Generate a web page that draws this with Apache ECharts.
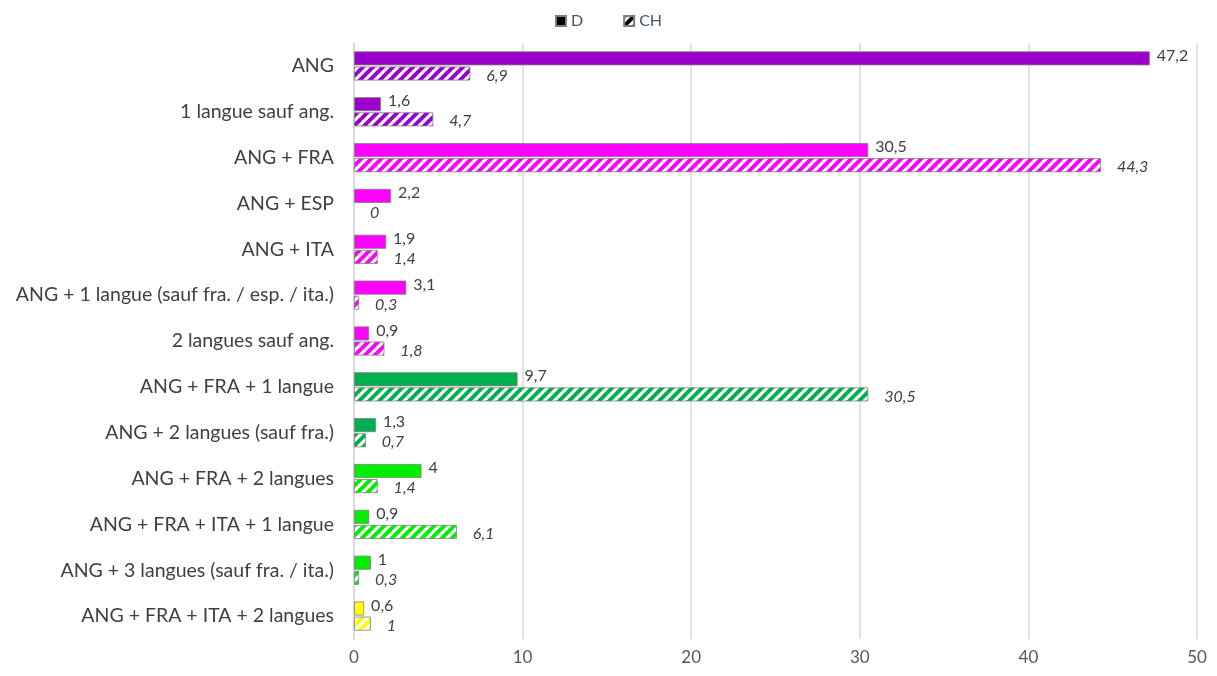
<!DOCTYPE html>
<html>
<head>
<meta charset="utf-8">
<script src="https://cdn.jsdelivr.net/npm/echarts@6/dist/echarts.min.js"></script>
<style>
  html, body { margin: 0; padding: 0; background: #fff; }
  #chart { width: 1217px; height: 676px; }
</style>
</head>
<body>
<div id="chart"></div>
<script>
// categories, top to bottom
var categories = [
    'ANG',
    '1 langue sauf ang.',
    'ANG + FRA',
    'ANG + ESP',
    'ANG + ITA',
    'ANG + 1 langue (sauf fra. / esp. / ita.)',
    '2 langues sauf ang.',
    'ANG + FRA + 1 langue',
    'ANG + 2 langues (sauf fra.)',
    'ANG + FRA + 2 langues',
    'ANG + FRA + ITA + 1 langue',
    'ANG + 3 langues (sauf fra. / ita.)',
    'ANG + FRA + ITA + 2 langues'
];
var valuesD = [47.2, 1.6, 30.5, 2.2, 1.9, 3.1, 0.9, 9.7, 1.3, 4, 0.9, 1, 0.6];
var valuesCH = [6.9, 4.7, 44.3, 0, 1.4, 0.3, 1.8, 30.5, 0.7, 1.4, 6.1, 0.3, 1];
var groupColors = ['#9900CC', '#9900CC', '#FF00FF', '#FF00FF', '#FF00FF', '#FF00FF', '#FF00FF',
    '#00B050', '#00B050', '#00EE00', '#00EE00', '#00EE00', '#FFFF00'];
var xTicks = [0, 10, 20, 30, 40, 50];

var font = 'Lato, "Open Sans", sans-serif';

// diagonal hatch "/" on white
function hatch(color) {
    var s = 10;
    var c = document.createElement('canvas');
    c.width = s; c.height = s;
    var ctx = c.getContext('2d');
    ctx.fillStyle = '#fff';
    ctx.fillRect(0, 0, s, s);
    ctx.strokeStyle = color;
    ctx.lineWidth = 4;
    for (var k = -1; k <= 1; k++) {
        ctx.beginPath();
        ctx.moveTo(k * s - 1, s + 1);
        ctx.lineTo(k * s + s + 1, -1);
        ctx.stroke();
    }
    return { image: c, repeat: 'repeat' };
}

function fmt(p) {
    return String(p.value).replace('.', ',');
}

var chart = echarts.init(document.getElementById('chart'));
chart.setOption({
    animation: false,
    textStyle: { fontFamily: font },
    legend: {
        top: 8,
        left: 'center',
        icon: 'rect',
        itemWidth: 10,
        itemHeight: 10,
        itemGap: 40,
        textStyle: { fontSize: 16, color: '#44546A', fontFamily: font },
        data: ['D', 'CH']
    },
    grid: { left: 354, right: 20, top: 43, bottom: 37 },
    xAxis: {
        type: 'value',
        min: xTicks[0],
        max: xTicks[xTicks.length - 1],
        interval: 10,
        axisLine: { show: false },
        axisTick: { show: false },
        axisLabel: { fontSize: 17, color: '#595959', margin: 10 },
        splitLine: { lineStyle: { color: '#D9D9D9', width: 1.5 } }
    },
    yAxis: {
        type: 'category',
        inverse: true,
        data: categories,
        axisLine: { show: true, lineStyle: { color: '#D9D9D9', width: 1.5 } },
        axisTick: { show: false },
        axisLabel: { fontSize: 19.5, color: '#404040', margin: 20 }
    },
    series: [{
        name: 'D',
        type: 'bar',
        barWidth: 14,
        barGap: '8%',
        itemStyle: { color: '#000', borderColor: '#7F7F7F', borderWidth: 0.8 },
        label: {
            show: true, position: 'right', distance: 7, offset: [0, -3],
            fontSize: 16, color: '#404040', formatter: fmt
        },
        data: valuesD.map(function(v, i) {
            return { value: v, itemStyle: { color: groupColors[i] } };
        })
    }, {
        name: 'CH',
        type: 'bar',
        barWidth: 14,
        itemStyle: { color: hatch('#000'), borderColor: '#7F7F7F', borderWidth: 0.8 },
        label: {
            show: true, position: 'right', distance: 16, offset: [0, 2],
            fontSize: 16, fontStyle: 'italic', color: '#404040', formatter: fmt
        },
        data: valuesCH.map(function(v, i) {
            return {
                value: v,
                itemStyle: { color: hatch(groupColors[i]), borderWidth: v === 0 ? 0 : 0.8 }
            };
        })
    }]
});
</script>
</body>
</html>
